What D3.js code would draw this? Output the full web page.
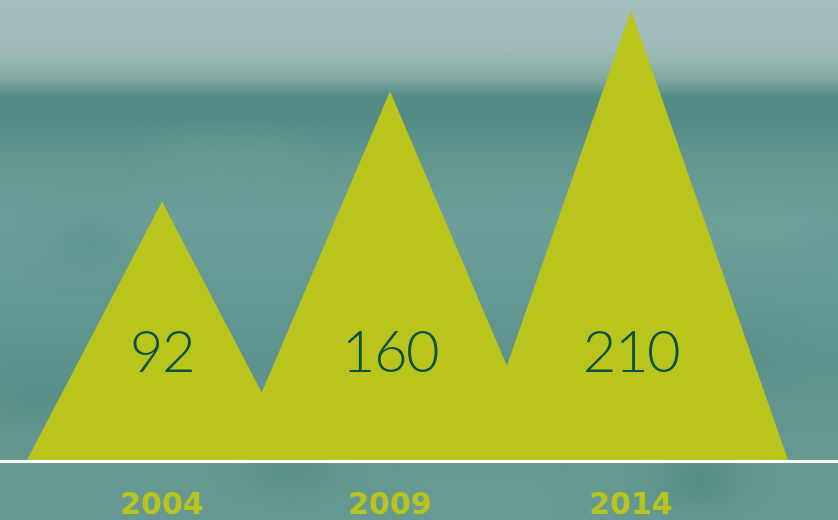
<!DOCTYPE html>
<html>
<head>
<meta charset="utf-8">
<script src="https://cdn.jsdelivr.net/npm/d3@7"></script>
<style>
  body { margin: 0; background: #6a9d98; }
  svg { display: block; }
</style>
</head>
<body>
<script>
// values
var years  = [2004, 2009, 2014];
var values = [92, 160, 210];
var labels = ["92", "160", "210"];

var width  = 838;
var height = 520;
var baseY  = 460;

var data = years.map(function(y, i) { return {year: y, value: values[i], label: labels[i]}; });

var svg = d3.select("body").append("svg")
    .attr("width", width)
    .attr("height", height);

var defs = svg.append("defs");

var bg = defs.append("linearGradient")
    .attr("id", "bg")
    .attr("x1", 0).attr("y1", 0).attr("x2", 0).attr("y2", 1);
[[0, "#a4bfbe"], [0.08, "#9fbbb9"], [0.12, "#96b4b0"], [0.15, "#85a9a3"],
 [0.185, "#548c86"], [0.22, "#528a84"], [0.3, "#62968f"], [0.42, "#6c9f99"],
 [0.55, "#659993"], [0.7, "#5e938d"], [0.85, "#65988f"], [1, "#669991"]]
  .forEach(function(s) {
    bg.append("stop").attr("offset", s[0]).attr("stop-color", s[1]);
  });

var blur = defs.append("filter").attr("id", "blur")
    .attr("x", "-50%").attr("y", "-50%").attr("width", "200%").attr("height", "200%");
blur.append("feGaussianBlur").attr("stdDeviation", 18);

svg.append("rect")
    .attr("width", width)
    .attr("height", height)
    .attr("fill", "url(#bg)");

// a few soft blotches for the textured backdrop
var spots = svg.append("g").attr("filter", "url(#blur)");
[[90, 240, 40, 18, "#4f8781", 0.5], [40, 400, 50, 20, "#4c857f", 0.5],
 [290, 470, 45, 18, "#4b857e", 0.6], [700, 480, 40, 22, "#44807a", 0.6],
 [760, 230, 60, 14, "#7aa9a3", 0.5], [230, 150, 80, 12, "#78a7a1", 0.4],
 [720, 350, 60, 14, "#4d8780", 0.4], [480, 505, 70, 15, "#78a8a2", 0.5]]
  .forEach(function(s) {
    spots.append("ellipse")
      .attr("cx", s[0]).attr("cy", s[1]).attr("rx", s[2]).attr("ry", s[3])
      .attr("fill", s[4]).attr("opacity", s[5]);
  });

var x = d3.scaleLinear()
    .domain(years)
    .range([162, 390, 631]);

var y = d3.scaleLinear()
    .domain([0, 210])
    .range([351, 10]);

var halfW = d3.scaleLinear()
    .domain([92, 160])
    .range([135, 157])
    .clamp(true);

function peak(d) {
  var cx = x(d.year), w = halfW(d.value);
  return "M" + (cx - w) + "," + baseY + "L" + cx + "," + y(d.value) + "L" + (cx + w) + "," + baseY + "Z";
}

svg.selectAll("path.peak")
  .data(data)
  .enter().append("path")
    .attr("class", "peak")
    .attr("d", peak)
    .attr("fill", "#b9c41c");

svg.append("line")
    .attr("x1", 0)
    .attr("x2", width)
    .attr("y1", baseY + 1.5)
    .attr("y2", baseY + 1.5)
    .attr("stroke", "#ffffff")
    .attr("stroke-width", 3);

svg.selectAll("text.val")
  .data(data)
  .enter().append("text")
    .attr("class", "val")
    .attr("x", function(d) { return x(d.year); })
    .attr("y", 372)
    .attr("text-anchor", "middle")
    .attr("fill", "#0b4f3f")
    .style("font-family", "Lato, sans-serif")
    .style("font-weight", 300)
    .style("font-size", "58px")
    .style("letter-spacing", "-1.5px")
    .text(function(d) { return d.label; });

svg.selectAll("text.year")
  .data(data)
  .enter().append("text")
    .attr("class", "year")
    .attr("x", function(d) { return x(d.year); })
    .attr("y", 514)
    .attr("text-anchor", "middle")
    .attr("fill", "#b9c41c")
    .style("font-family", "'DejaVu Sans', sans-serif")
    .style("font-weight", 700)
    .style("font-size", "30px")
    .text(function(d) { return d.year; });
</script>
</body>
</html>
